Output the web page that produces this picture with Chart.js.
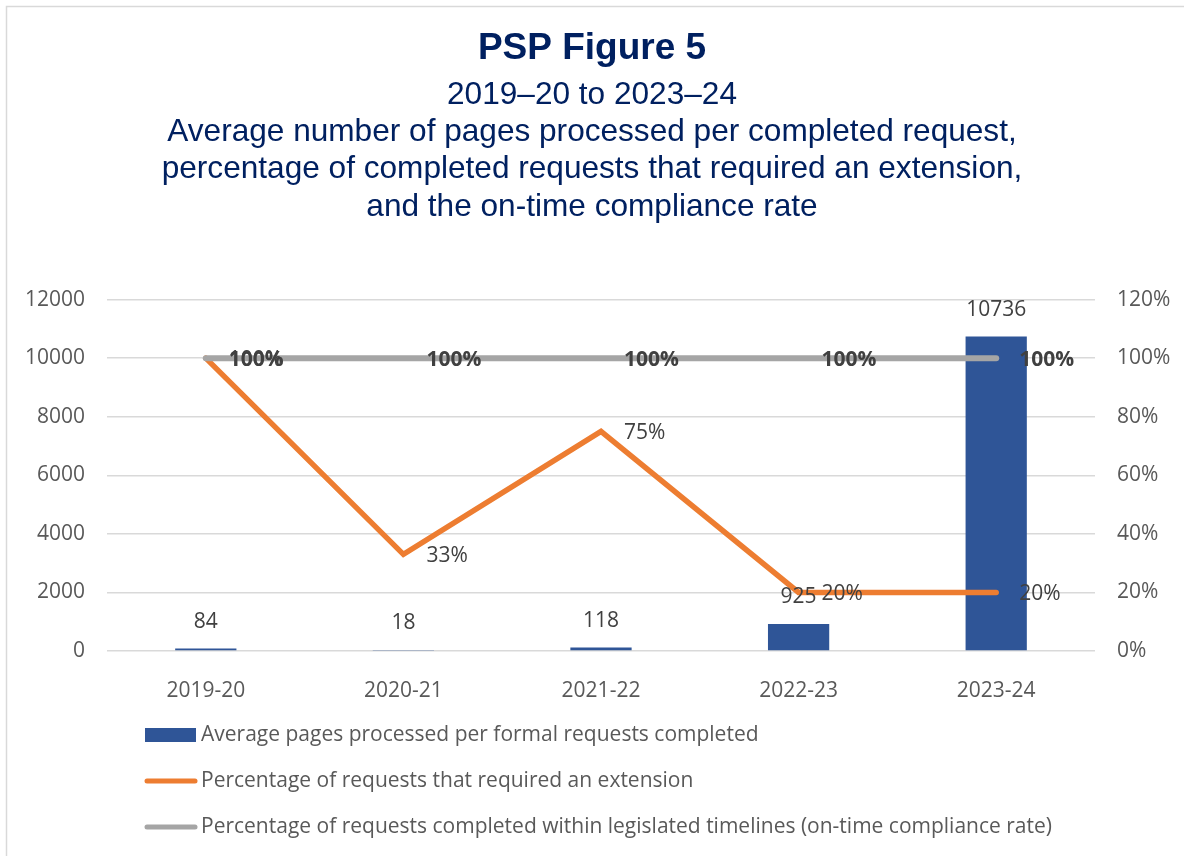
<!DOCTYPE html>
<html>
<head>
<meta charset="utf-8">
<script src="https://cdn.jsdelivr.net/npm/chart.js@4"></script>
<style>
  html, body { margin: 0; padding: 0; background: #fff; }
  #wrap { width: 1184px; height: 856px; position: relative; }
</style>
</head>
<body>
<div id="wrap"><canvas id="psp5" width="1184" height="856"></canvas></div>
<script>
// data
const years = ['2019-20', '2020-21', '2021-22', '2022-23', '2023-24'];
const avgPages = [84, 18, 118, 925, 10736];
const extensionPct = [100, 33, 75, 20, 20];
const onTimePct = [100, 100, 100, 100, 100];

const titleLines = ['PSP Figure 5'];
const subtitleLines = [
  '2019\u201320 to 2023\u201324',
  'Average number of pages processed per completed request,',
  'percentage of completed requests that required an extension,',
  'and the on-time compliance rate'
];

const NAVY = '#002060';
const TEXT = '#595959';
const LABEL = '#404040';
const FONT = "'Open Sans', sans-serif";
const FS = 21;

// white background + thin frame on the top/left like the source
const framePlugin = {
  id: 'frame',
  beforeDraw(chart) {
    const c = chart.ctx;
    c.save();
    c.fillStyle = '#fff';
    c.fillRect(0, 0, chart.width, chart.height);
    c.strokeStyle = '#d9d9d9';
    c.lineWidth = 1.5;
    c.beginPath();
    c.moveTo(6.5, chart.height);
    c.lineTo(6.5, 6.5);
    c.lineTo(chart.width, 6.5);
    c.stroke();
    c.restore();
  }
};

// value labels, Excel style
const valueLabels = {
  id: 'valueLabels',
  afterDatasetsDraw(chart) {
    const c = chart.ctx;
    c.save();
    chart.data.datasets.forEach((ds, i) => {
      const meta = chart.getDatasetMeta(i);
      meta.data.forEach((el, j) => {
        const v = ds.data[j];
        c.fillStyle = LABEL;
        c.textBaseline = 'middle';
        if (ds.type === 'bar') {
          c.font = `${FS}px ${FONT}`;
          c.textAlign = 'center';
          c.fillText(String(v), el.x, el.y - 27);
        } else {
          c.font = (ds.boldLabels ? 'bold ' : '') + `${FS}px ${FONT}`;
          c.textAlign = 'left';
          c.fillText(v + '%', el.x + 23, el.y + 2);
        }
      });
    });
    c.restore();
  }
};

// vertical legend under the axis
const stackedLegend = {
  id: 'stackedLegend',
  afterDraw(chart) {
    const c = chart.ctx;
    const rows = [735, 781, 827];
    c.save();
    c.font = `${FS}px ${FONT}`;
    c.textBaseline = 'middle';
    c.textAlign = 'left';
    chart.data.datasets.forEach((ds, i) => {
      const y = rows[i];
      if (ds.type === 'bar') {
        c.fillStyle = ds.backgroundColor;
        c.fillRect(145, y - 7, 51, 14);
      } else {
        c.strokeStyle = ds.borderColor;
        c.lineWidth = 5;
        c.lineCap = 'round';
        c.beginPath();
        c.moveTo(147, y);
        c.lineTo(195, y);
        c.stroke();
      }
      c.fillStyle = TEXT;
      c.fillText(ds.label, 201, y);
    });
    c.restore();
  }
};

new Chart(document.getElementById('psp5'), {
  data: {
    labels: years,
    datasets: [
      {
        type: 'bar',
        label: 'Average pages processed per formal requests completed',
        data: avgPages,
        yAxisID: 'y',
        backgroundColor: '#2F5597',
        categoryPercentage: 0.31,
        barPercentage: 1,
        order: 3
      },
      {
        type: 'line',
        label: 'Percentage of requests that required an extension',
        data: extensionPct,
        yAxisID: 'y1',
        borderColor: '#ED7D31',
        backgroundColor: '#ED7D31',
        borderWidth: 5.5,
        borderCapStyle: 'round',
        borderJoinStyle: 'miter',
        pointRadius: 0,
        tension: 0,
        order: 2
      },
      {
        type: 'line',
        label: 'Percentage of requests completed within legislated timelines (on-time compliance rate)',
        data: onTimePct,
        yAxisID: 'y1',
        borderColor: '#A5A5A5',
        backgroundColor: '#A5A5A5',
        borderWidth: 6,
        borderCapStyle: 'round',
        pointRadius: 0,
        tension: 0,
        boldLabels: true,
        order: 1
      }
    ]
  },
  options: {
    responsive: false,
    animation: false,
    maintainAspectRatio: false,
    layout: { padding: { top: 27, bottom: 150, left: 0, right: 0 } },
    plugins: {
      legend: { display: false },
      tooltip: { enabled: false },
      title: {
        display: true,
        text: titleLines,
        color: NAVY,
        font: { family: "'Liberation Sans', Arial, sans-serif", size: 37, weight: 'bold', lineHeight: 1.2 },
        padding: { top: 0, bottom: 5 }
      },
      subtitle: {
        display: true,
        text: subtitleLines,
        color: NAVY,
        font: { family: "'Liberation Sans', Arial, sans-serif", size: 31.6, lineHeight: 1.18 },
        padding: { top: 0, bottom: 74 }
      }
    },
    scales: {
      x: {
        grid: { display: false },
        border: { display: false },
        ticks: { color: TEXT, font: { family: FONT, size: FS }, padding: 19 },
        afterFit(s) { s.height = 55; }
      },
      y: {
        position: 'left',
        min: 0,
        max: 12000,
        ticks: { stepSize: 2000, color: TEXT, font: { family: FONT, size: FS }, padding: 22, callback: v => String(v) },
        grid: { color: '#d9d9d9', lineWidth: 1.5, drawTicks: false },
        border: { display: false },
        afterFit(s) { s.width = 107; }
      },
      y1: {
        position: 'right',
        min: 0,
        max: 120,
        ticks: { stepSize: 20, color: TEXT, font: { family: FONT, size: FS }, padding: 22, callback: v => v + '%' },
        grid: { display: false, drawTicks: false },
        border: { display: false },
        afterFit(s) { s.width = 89; }
      }
    }
  },
  plugins: [framePlugin, valueLabels, stackedLegend]
});
</script>
</body>
</html>
